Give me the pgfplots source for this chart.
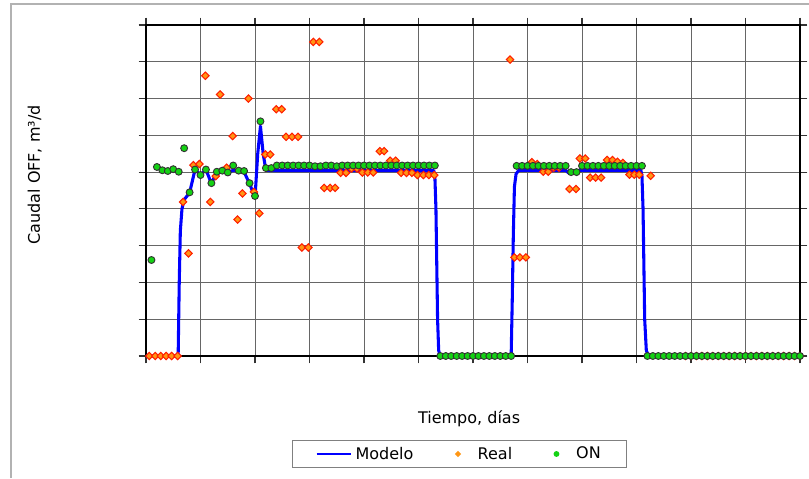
\documentclass[border=0pt]{standalone}
\usepackage{pgfplots}
\pgfplotsset{compat=1.18}
\usepackage{fontspec}
\setmainfont{DejaVu Sans}
\definecolor{realfill}{RGB}{255,150,20}
\definecolor{realedge}{RGB}{255,30,0}
\definecolor{onfill}{RGB}{20,210,20}
\begin{document}
\begin{tikzpicture}
\useasboundingbox (0,0) rectangle (606.75pt,358.5pt);
\draw[black!30, line width=1.5pt] (8.25pt,0) -- (8.25pt,355.5pt) -- (606.75pt,355.5pt);
\begin{axis}[
  at={(109.5pt,91.5pt)}, anchor=south west,
  scale only axis, width=490.5pt, height=248.25pt,
  xmin=0, xmax=120, ymin=0, ymax=9,
  xtick={0,10,...,120}, ytick={0,1,...,9},
  xticklabels={}, yticklabels={},
  grid=major, major grid style={black!60, line width=0.75pt},
  tick style={black!80, line width=0.8pt}, major tick length=5.5pt, tick align=outside,
  axis line style={black, line width=1pt},
  clip=false,
  font=\fontsize{12}{14}\selectfont,
  xlabel={Tiempo, días},
  xlabel style={at={(axis description cs:0.494,-0.19)}, anchor=center},
  ylabel={Caudal OFF, m³/d},
  ylabel style={at={(axis description cs:-0.17,0.547)}, anchor=center, rotate=0},
  legend columns=3,
  legend style={at={(axis description cs:0.479,-0.296)}, anchor=center,
    draw=black!50, line width=0.8pt, font=\fontsize{12}{14}\selectfont,
    /tikz/every even column/.append style={column sep=29pt},
    inner xsep=17pt, inner ysep=3pt},
]
\addplot[blue, line width=2.3pt, line join=round,
  legend image code/.code={\draw[blue, line width=2.2pt] (0cm,0) -- (0.92cm,0);}] coordinates {
(0,0) (5.9,0) (6.1,2.0) (6.3,3.4) (6.6,4.0) (7,4.25) (8,4.44) (9,5.07) (10,4.92) (11,5.07) (12,4.69)
(13,5.01) (14,5.03) (15,4.99) (16,5.05) (17,5.03) (18,5.0) (19,4.69) (20,4.3) (20.5,5.5)
(21,6.25) (21.5,5.5) (22,5.05) (23,5.04) (30,5.04) (40,5.04) (52.8,5.04) (53.0,4.9) (53.2,4.0) (53.5,1.0)
(53.7,0.15) (54,0) (67,0) (67.2,1.5) (67.4,3.3) (67.6,4.6) (67.9,4.95) (68.4,5.05) (77,5.05) (77.5,4.98) (79,4.98)
(79.5,5.05) (90.8,5.05) (91.0,4.9) (91.2,4.0) (91.5,1.0) (91.8,0.15) (92.2,0) (120,0)
};
\addlegendentry{Modelo}
\addplot[only marks, mark=square*, mark size=1.95pt,
  mark options={fill=realfill, draw=realedge, line width=0.8pt, rotate=45},
  legend image code/.code={\path[draw=none,fill=none] (0,0) -- (0.45cm,0); \fill[realfill, draw=none] (0,0) +(-2.4pt,0) -- +(0,2.4pt) -- +(2.4pt,0) -- +(0,-2.4pt) -- cycle;}]
coordinates {
(0.6,0) (1.7,0) (2.7,0) (3.7,0) (4.7,0) (5.8,0)
(6.8,4.19) (7.8,2.79) (8.7,5.19) (9.8,5.22) (10.9,7.62) (11.8,4.19) (12.8,4.89) (13.6,7.11)
(14.8,5.12) (15.9,5.98) (16.8,3.71) (17.7,4.42) (18.8,7.0) (19.8,4.46) (20.8,3.88)
(21.9,5.48) (22.8,5.48) (23.9,6.71) (24.9,6.71) (25.7,5.96) (26.8,5.96) (27.9,5.96)
(28.6,2.95) (29.8,2.95) (30.7,8.54) (31.8,8.54) (32.7,4.57) (33.8,4.57) (34.7,4.57)
(35.7,4.98) (36.7,4.98) (37.7,5.1) (38.7,5.1) (39.7,4.99) (40.7,4.99) (41.7,4.99)
(42.9,5.57) (43.7,5.57) (44.8,5.31) (45.8,5.31) (46.8,4.98) (47.8,4.98) (48.8,4.98)
(49.8,4.92) (50.9,4.92) (51.9,4.92) (52.9,4.92)
(66.8,8.06) (67.6,2.68) (68.6,2.68) (69.7,2.68) (70.8,5.27) (71.8,5.22) (72.9,5.01) (73.8,5.01)
(74.8,5.12) (75.8,5.12) (77.7,4.54) (78.9,4.54) (79.6,5.37) (80.6,5.37) (81.5,4.85) (82.5,4.85)
(83.5,4.85) (84.6,5.33) (85.6,5.33) (86.5,5.28) (87.5,5.25) (88.7,4.93) (89.6,4.93) (90.5,4.93)
(92.6,4.90)
(99,0) (100,0) (101,0) (102,0) (103,0) (104,0) (105,0) (106,0) (107,0) (108,0) (109,0) (110,0)
(111,0) (112,0) (113,0) (114,0) (115,0) (116,0) (117,0) (118,0) (119,0) (120,0)
};
\addlegendentry{Real}
\addplot[only marks, mark=*, mark size=2.6pt,
  mark options={fill=onfill, draw=black!80, line width=0.7pt},
  legend image code/.code={\path[draw=none,fill=none] (0,0) -- (0.45cm,0); \fill[onfill, draw=none] (0,0) circle (2.2pt);}]
coordinates {
(1,2.61) (2,5.14) (3,5.05) (4,5.03) (5,5.08) (6,5.01) (7,5.65) (8,4.45) (9,5.07) (10,4.92)
(11,5.07) (12,4.70) (13,5.01) (14,5.04) (15,4.99) (16,5.18) (17,5.04) (18,5.03) (19,4.70)
(20,4.35) (21,6.38) (22,5.11) (23,5.11) (24,5.18) (25,5.18) (26,5.18) (27,5.18) (28,5.18)
(29,5.18) (30,5.18) (31,5.16) (32,5.16) (33,5.18) (34,5.18) (35,5.16) (36,5.18) (37,5.18)
(38,5.18) (39,5.18) (40,5.18) (41,5.18) (42,5.18) (43,5.18) (44,5.18) (45,5.18) (46,5.18)
(47,5.18) (48,5.18) (49,5.18) (50,5.18) (51,5.18) (52,5.18) (53,5.18)
(54,0) (55,0) (56,0) (57,0) (58,0) (59,0) (60,0) (61,0) (62,0) (63,0) (64,0) (65,0) (66,0) (67,0)
(68,5.17) (69,5.17) (70,5.17) (71,5.17) (72,5.17) (73,5.17) (74,5.17) (75,5.17) (76,5.17) (77,5.17)
(78,5.0) (79,5.0) (80,5.17) (81,5.17) (82,5.17) (83,5.17) (84,5.17) (85,5.17) (86,5.17) (87,5.17)
(88,5.17) (89,5.17) (90,5.17) (91,5.17)
(92,0) (93,0) (94,0) (95,0) (96,0) (97,0) (98,0) (99,0) (100,0) (101,0) (102,0) (103,0) (104,0)
(105,0) (106,0) (107,0) (108,0) (109,0) (110,0) (111,0) (112,0) (113,0) (114,0) (115,0) (116,0)
(117,0) (118,0) (119,0) (120,0)
};
\addlegendentry{ON}
\end{axis}
\end{tikzpicture}
\end{document}
